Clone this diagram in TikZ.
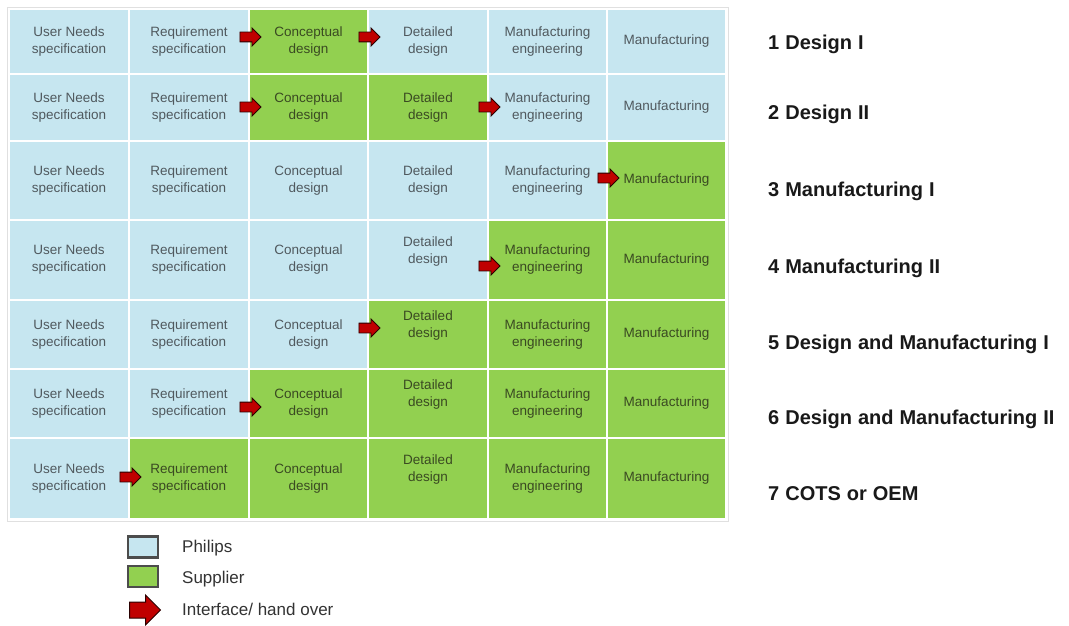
\documentclass[tikz,border=0pt]{standalone}
\usepackage{fontspec}
\setmainfont{Liberation Sans}
\usetikzlibrary{shapes.arrows}
\definecolor{phil}{HTML}{C6E6F0}
\definecolor{supp}{HTML}{92D050}
\definecolor{ptext}{HTML}{50595E}
\definecolor{stext}{HTML}{3A4A22}
\definecolor{arrred}{HTML}{C00000}
\definecolor{arredge}{HTML}{2A0000}
\definecolor{legtext}{HTML}{333333}
\newcommand\rlfont{\fontsize{20}{22}\selectfont\bfseries\spaceskip=6pt plus 1pt\relax}
\begin{document}
\begin{tikzpicture}[x=1pt,y=-1pt,
  cellbox/.style={draw=none, inner sep=0pt, outer sep=0pt},
  celltext/.style={inner sep=0pt, align=center, font=\fontsize{13.5}{17}\selectfont},
  handarrow/.style={single arrow, fill=arrred, draw=arredge, line width=0.9pt,
     minimum height=21pt, inner xsep=0pt, inner ysep=4.5pt, single arrow head extend=4pt},
  rlabel/.style={anchor=base west, inner sep=0pt, font=\rlfont, text=black!90},
  legbox/.style={draw=black!70, line width=1.8pt, minimum width=29pt, minimum height=20pt, inner sep=0pt},
  legtxt/.style={anchor=base west, inner sep=0pt, font=\fontsize{17}{20}\selectfont, text=legtext}
]
\useasboundingbox (0,0) rectangle (1069,626);
\fill[white] (0,0) rectangle (1069,626);
\draw[black!12, line width=0.8pt] (7,7) rectangle (728,521);

\foreach \r/\ya/\yb/\gs/\ge in {1/9/74/3/3, 2/74/141/3/4, 3/141/220/6/6, 4/220/300/5/6, 5/300/369/4/6, 6/369/438/3/6, 7/438/519/2/6}{
  \foreach \c/\xa/\xb/\txt in {1/9/129/{User Needs\\specification}, 2/129/249/{Requirement\\specification}, 3/249/368/{Conceptual\\design}, 4/368/488/{Detailed\\design}, 5/488/607/{Manufacturing\\engineering}, 6/607/726/{Manufacturing}}{
    \pgfmathtruncatemacro{\isg}{(\c>=\gs)&&(\c<=\ge)}
    \pgfmathtruncatemacro{\isoff}{(\c==4)&&(\r>=4)}
    \ifnum\isg=1 \def\fc{supp}\def\tc{stext}\else\def\fc{phil}\def\tc{ptext}\fi
    \ifnum\isoff=1 \def\off{8.5pt}\else\def\off{0pt}\fi
    \node[cellbox, fill=\fc, minimum width={(\xb-\xa-2)*1pt}, minimum height={(\yb-\ya-2)*1pt}]
      (c-\r-\c) at ({(\xa+\xb)/2},{(\ya+\yb)/2}) {};
    \node[celltext, text=\tc, yshift=\off] (t-\r-\c) at (c-\r-\c.center) {\txt};
  }
}

% hand-over arrows
\node[handarrow] (a11) at (248,37) {};
\node[handarrow] (a12) at (367,37) {};
\node[handarrow] (a21) at (248,107) {};
\node[handarrow] (a22) at (487,107) {};
\node[handarrow] (a31) at (606,178) {};
\node[handarrow] (a41) at (487,266) {};
\node[handarrow] (a51) at (367,328) {};
\node[handarrow] (a61) at (248,407) {};
\node[handarrow] (a71) at (128,477) {};

% right labels
\node[rlabel] (l1) at (768,50) {1 Design I};
\node[rlabel] (l2) at (768,120) {2 Design II};
\node[rlabel] (l3) at (768,196) {3 Manufacturing I};
\node[rlabel] (l4) at (768,273) {4 Manufacturing II};
\node[rlabel] (l5) at (768,349) {5 Design and Manufacturing I};
\node[rlabel] (l6) at (768,424) {6 Design and Manufacturing II};
\node[rlabel] (l7) at (768,500) {7 COTS or OEM};

% legend
\node[legbox, fill=phil] (lg1) at (143,547) {};
\node[legbox, fill=supp] (lg2) at (143,576.5) {};
\draw[black!70, line width=1.8pt] (lg1.south west) rectangle (lg1.north east);
\draw[black!70, line width=1.8pt] (lg2.south west) rectangle (lg2.north east);
\node[single arrow, fill=arrred, draw=arredge, line width=1pt, minimum height=31pt,
      inner xsep=0pt, inner ysep=7.5pt, single arrow head extend=7pt] (lg3) at (141,610) {};
\node[legtxt] (lt1) at (182,552) {Philips};
\node[legtxt] (lt2) at (182,583) {Supplier};
\node[legtxt] (lt3) at (182,615) {Interface/ hand over};
\end{tikzpicture}
\end{document}
